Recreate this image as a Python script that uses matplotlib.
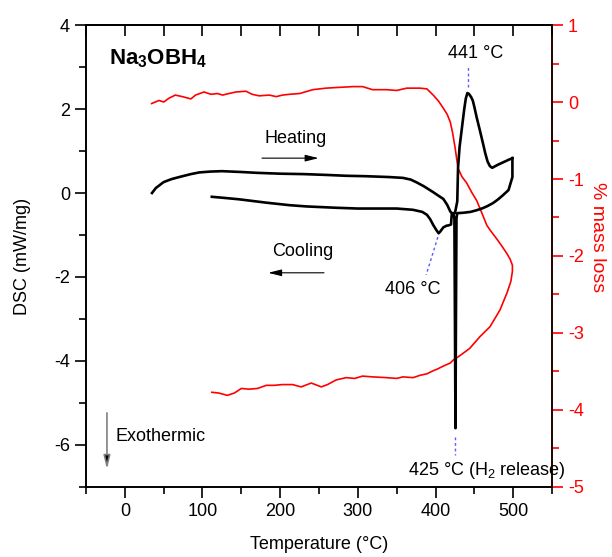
import matplotlib
matplotlib.use("Agg")
import matplotlib.pyplot as plt
from matplotlib.ticker import MultipleLocator

plt.rcParams['font.family'] = ['Liberation Sans', 'DejaVu Sans']
plt.rcParams['mathtext.fontset'] = 'custom'
plt.rcParams['mathtext.rm'] = 'Liberation Sans'
plt.rcParams['mathtext.bf'] = 'Liberation Sans:bold'
plt.rcParams['axes.unicode_minus'] = False

# DSC heating branch (T in degC, DSC in mW/mg)
heat_T = [35, 40, 50, 60, 70, 85, 96, 110, 125, 150, 170, 200, 230, 260, 285, 310,
          340, 358, 368, 376, 385, 397, 405, 410, 415, 419, 421, 425, 428, 429, 431,
          434, 437, 439, 441, 443, 446, 448, 450, 453, 457, 461, 464, 467, 470, 473,
          480, 487, 494, 499]
heat_dsc = [0.0, 0.12, 0.26, 0.33, 0.38, 0.45, 0.49, 0.51, 0.52, 0.50, 0.48, 0.46, 0.45,
            0.43, 0.41, 0.40, 0.38, 0.36, 0.32, 0.25, 0.16, 0.02, -0.08, -0.14, -0.28,
            -0.44, -0.48, -0.48, -0.2, 0.6, 1.1, 1.55, 2.0, 2.25, 2.38, 2.36, 2.28, 2.2,
            2.05, 1.8, 1.5, 1.19, 0.95, 0.75, 0.64, 0.60, 0.67, 0.73, 0.79, 0.83]

# DSC cooling branch
cool_T = [499, 499, 494, 487, 480, 474, 467, 461, 453, 445, 436, 428, 427, 426.3,
          425.7, 425.0, 424.3, 423, 421, 420.5, 420, 417, 414, 410, 406, 404, 401,
          397, 393, 389, 383, 371, 350, 320, 300, 270, 234, 212, 182, 147, 130, 112]
cool_dsc = [0.83, 0.38, 0.07, -0.05, -0.16, -0.24, -0.31, -0.36, -0.41, -0.45, -0.47,
            -0.48, -0.6, -3.0, -5.6, -3.0, -0.6, -0.5, -0.5, -0.6, -0.75, -0.77, -0.78,
            -0.82, -0.92, -0.96, -0.88, -0.76, -0.62, -0.52, -0.45, -0.40, -0.37, -0.37,
            -0.37, -0.35, -0.32, -0.29, -0.23, -0.15, -0.12, -0.09]

# mass loss (%) heating then cooling
mass_T = [34.5, 44, 50, 57, 65, 74, 85, 91, 102, 111, 119, 126, 134, 143, 156, 164, 173,
          186, 195, 203, 212, 225, 242, 259, 276, 294, 306, 319, 337, 350, 363, 380, 389,
          397, 404, 410, 415, 419, 422, 425, 427, 429, 434, 440, 447, 453, 460, 466, 470,
          479, 486, 492, 496, 499,
          499, 497, 492, 483, 476, 470, 457, 444, 432, 423, 419, 410, 402, 397, 389, 380,
          371, 358, 350, 337, 319, 306, 296, 285, 272, 261, 253, 240, 227, 216, 203, 192,
          182, 171, 160, 150, 141, 132, 121, 112]
mass_loss = [-0.02, 0.02, 0.0, 0.05, 0.09, 0.07, 0.04, 0.09, 0.13, 0.10, 0.11, 0.09, 0.11,
             0.13, 0.14, 0.10, 0.08, 0.09, 0.07, 0.09, 0.10, 0.11, 0.16, 0.18, 0.19, 0.20,
             0.20, 0.16, 0.16, 0.15, 0.18, 0.18, 0.17, 0.09, 0.01, -0.08, -0.16, -0.26,
             -0.40, -0.58, -0.72, -0.86, -0.97, -1.05, -1.18, -1.28, -1.45, -1.60, -1.66,
             -1.78, -1.88, -1.97, -2.04, -2.12,
             -2.2, -2.33, -2.48, -2.70, -2.82, -2.92, -3.05, -3.20, -3.29, -3.35, -3.39,
             -3.43, -3.47, -3.49, -3.53, -3.55, -3.58, -3.57, -3.59, -3.58, -3.57, -3.56,
             -3.59, -3.58, -3.61, -3.67, -3.70, -3.65, -3.70, -3.67, -3.67, -3.68, -3.68,
             -3.72, -3.73, -3.72, -3.78, -3.81, -3.78, -3.77]

fig = plt.figure(figsize=(6.12, 5.57), dpi=100)
ax = fig.add_axes([0.1405, 0.1257, 0.7615, 0.8294])
ax2 = ax.twinx()

ax.plot(heat_T, heat_dsc, color='black', lw=1.9, zorder=3)
ax.plot(cool_T, cool_dsc, color='black', lw=1.9, zorder=3)
ax2.plot(mass_T, mass_loss, color='red', lw=1.2)

ax.set_zorder(ax2.get_zorder() + 1)
ax.patch.set_visible(False)

ax.set_xlim(-50, 550)
ax.set_ylim(-7, 4)
ax2.set_ylim(-5, 1)

ax.xaxis.set_major_locator(MultipleLocator(100))
ax.xaxis.set_minor_locator(MultipleLocator(50))
ax.yaxis.set_major_locator(MultipleLocator(2))
ax.yaxis.set_minor_locator(MultipleLocator(1))
ax2.yaxis.set_major_locator(MultipleLocator(1))
ax2.yaxis.set_minor_locator(MultipleLocator(0.5))

ax.tick_params(axis='both', which='major', direction='out', length=8, width=1.2, labelsize=13)
ax.tick_params(axis='both', which='minor', direction='out', length=5, width=1.2)
ax.tick_params(axis='y', which='both', right=False)
ax.tick_params(axis='x', which='both', top=False)

# inward ticks on the top edge
top = ax.secondary_xaxis('top')
top.xaxis.set_major_locator(MultipleLocator(50))
top.tick_params(direction='in', length=8, width=1.2, labeltop=False)
top.spines['top'].set_linewidth(1.2)

ax2.tick_params(axis='y', which='major', direction='out', length=8, width=1.2,
                colors='red', labelsize=13)
ax2.tick_params(axis='y', which='minor', direction='out', length=5, width=1.2, colors='red')
for s in ax.spines.values():
    s.set_linewidth(1.2)
for s in ax2.spines.values():
    s.set_linewidth(1.2)
ax2.spines['right'].set_color('red')

ax.set_xlabel('Temperature (°C)', fontsize=13, va='center')
ax.set_ylabel('DSC (mW/mg)', fontsize=13, va='center')
ax2.set_ylabel('% mass loss', fontsize=14, color='red', rotation=-90, va='center')
ax.xaxis.set_label_coords(0.5, -0.125)
ax.yaxis.set_label_coords(-0.137, 0.5)
ax2.yaxis.set_label_coords(1.097, 0.54)

# annotations
ax.text(-21, 3.2, r'$\mathbf{Na_3OBH_4}$', fontsize=16, ha='left', va='center')
ax.text(452, 3.33, '441 °C', fontsize=13, ha='center', va='center')
ax.plot([442, 442], [2.52, 3.05], color='#5a5aff', lw=1, ls=(0, (2, 2)))
ax.text(220, 1.29, 'Heating', fontsize=13, ha='center', va='center')
ax.annotate('', xy=(253, 0.83), xytext=(173, 0.83),
            arrowprops=dict(arrowstyle='-|>,head_length=0.8,head_width=0.2', color='black', lw=0.8))
ax.text(229, -1.40, 'Cooling', fontsize=13, ha='center', va='center')
ax.annotate('', xy=(181, -1.90), xytext=(260, -1.90),
            arrowprops=dict(arrowstyle='-|>,head_length=0.8,head_width=0.2', color='black', lw=0.8))
ax.text(371, -2.29, '406 °C', fontsize=13, ha='center', va='center')
ax.plot([403, 388], [-1.05, -1.95], color='#5a5aff', lw=1, ls=(0, (2, 2)))
ax.text(466, -6.6, '425 °C (H$_2$ release)', fontsize=13, ha='center', va='center')
ax.plot([425, 425], [-5.81, -6.24], color='#5a5aff', lw=1, ls=(0, (2, 2)))
ax.text(-11.5, -5.79, 'Exothermic', fontsize=13, ha='left', va='center')
ax.annotate('', xy=(-23, -6.64), xytext=(-23, -5.17),
            arrowprops=dict(arrowstyle='-|>,head_length=0.8,head_width=0.2',
                            ec='gray', fc='black', lw=1.2))

plt.savefig('out.png', dpi=100)
